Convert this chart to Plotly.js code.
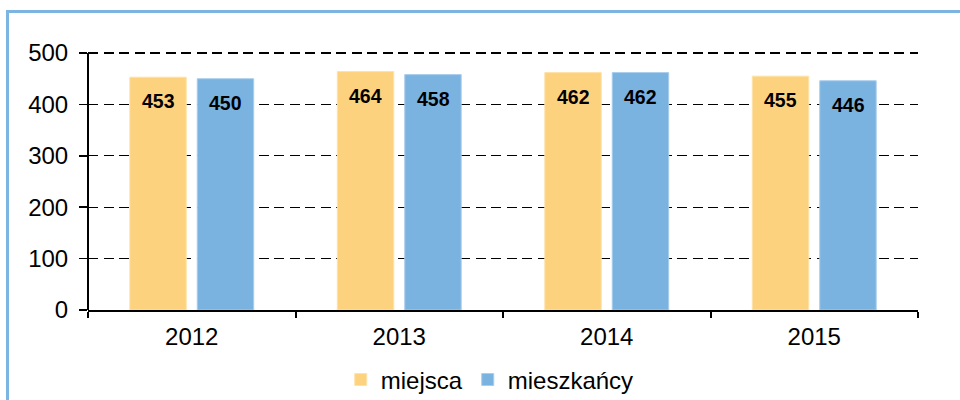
<!DOCTYPE html>
<html>
<head>
<meta charset="utf-8">
<script src="https://cdn.plot.ly/plotly-3.0.1.min.js"></script>
<style>
  html, body { margin: 0; padding: 0; background: #fff; overflow: hidden; }
  #wrap { position: relative; width: 960px; height: 400px; }
  #chart { width: 960px; height: 400px; }
  #frame { position: absolute; left: 6px; top: 10px; width: 1000px; height: 500px;
           border: 3px solid #7DB5E2; pointer-events: none; }
</style>
</head>
<body>
<div id="wrap">
  <div id="chart"></div>
  <div id="frame"></div>
</div>
<script>
const years = ['2012', '2013', '2014', '2015'];
const miejsca = [453, 464, 462, 455];
const mieszkancy = [450, 458, 462, 446];
const seriesNames = ['miejsca', 'mieszkańcy'];
const yTicks = [0, 100, 200, 300, 400, 500];

const colors = ['#FDD27F', '#7AB3E0'];
const lineColors = ['#FEE2A8', '#A9CDEB'];
const FONT = 'Liberation Sans, Arial, sans-serif';

const traces = [miejsca, mieszkancy].map((vals, i) => ({
  type: 'bar',
  name: seriesNames[i],
  x: years,
  y: vals,
  marker: { color: colors[i], line: { color: lineColors[i], width: 1 } },
  hoverinfo: 'x+y+name'
}));

const annotations = [];
[miejsca, mieszkancy].forEach((vals, i) => {
  vals.forEach((v, j) => {
    annotations.push({
      x: j, y: v, xref: 'x', yref: 'y',
      text: String(v), showarrow: false,
      xshift: i === 0 ? -33.5 : 34,
      yshift: -24, yanchor: 'middle', xanchor: 'center',
      font: { family: FONT, size: 19.5, color: '#000', weight: 'bold' }
    });
  });
});

const layout = {
  width: 960, height: 400,
  margin: { l: 88, r: 42, t: 52, b: 90, pad: 0, autoexpand: false },
  paper_bgcolor: '#fff', plot_bgcolor: '#fff',
  barmode: 'group', bargap: 0.35, bargroupgap: 0.163,
  font: { family: FONT, size: 24, color: '#000' },
  showlegend: true,
  legend: {
    orientation: 'h', x: 0.484, xanchor: 'center', y: -0.271, yanchor: 'middle',
    font: { family: FONT, size: 24, color: '#000' }, itemwidth: 30,
    bgcolor: 'rgba(0,0,0,0)'
  },
  xaxis: {
    type: 'category', tickson: 'boundaries', range: [-0.5, 3.5],
    categoryorder: 'array', categoryarray: years, automargin: false,
    showline: true, linecolor: '#000', linewidth: 2,
    ticks: 'outside', ticklen: 6, tickwidth: 2, tickcolor: '#000',
    showgrid: false, zeroline: false, tickangle: 0, ticklabelstandoff: 4,
    tickfont: { family: FONT, size: 24, color: '#000' }
  },
  yaxis: {
    range: [0, 502], tickvals: yTicks, ticktext: yTicks.map(String), automargin: false,
    showline: false,
    ticks: 'outside', ticklen: 8, tickwidth: 1.5, tickcolor: '#000',
    showgrid: true, gridcolor: '#000', gridwidth: 1.3, griddash: '10px,5.5px',
    zeroline: false, ticklabelstandoff: 6,
    tickfont: { family: FONT, size: 24, color: '#000' }
  },
  shapes: [{
    type: 'line', xref: 'paper', yref: 'y', x0: 0, x1: 0,
    y0: yTicks[0], y1: yTicks[yTicks.length - 1],
    line: { color: '#000', width: 2 }
  }],
  annotations: annotations
};

Plotly.newPlot('chart', traces, layout, { displayModeBar: false, staticPlot: true });
</script>
</body>
</html>
